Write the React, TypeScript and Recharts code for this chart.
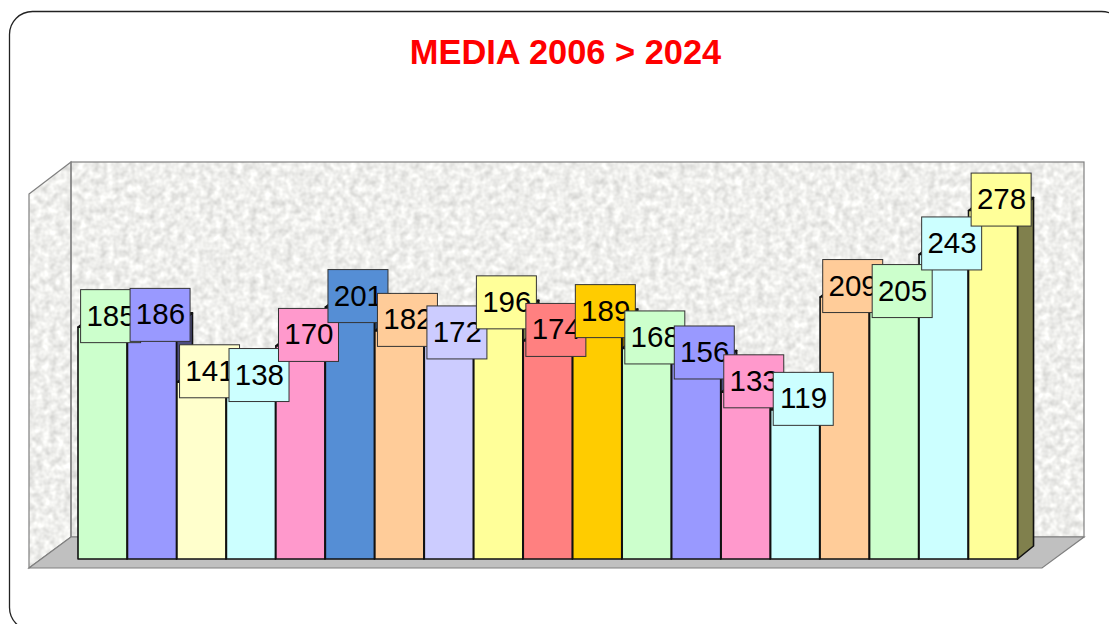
import { BarChart, Bar, XAxis, YAxis, LabelList } from 'recharts';

const years = ['2006', '2007', '2008', '2009', '2010', '2011', '2012', '2013', '2014', '2015', '2016', '2017', '2018', '2019', '2020', '2021', '2022', '2023', '2024'];
const media = [185, 186, 141, 138, 170, 201, 182, 172, 196, 174, 189, 168, 156, 133, 119, 209, 205, 243, 278];
const barColors = ['#CCFFCC', '#9999FF', '#FFFFCC', '#CCFFFF', '#FF99CC', '#558ED5', '#FFCC99', '#CCCCFF', '#FFFF99', '#FF8080', '#FFCC00', '#CCFFCC', '#9999FF', '#FF99CC', '#CCFFFF', '#FFCC99', '#CCFFCC', '#CCFFFF', '#FFFF99'];

const chartData = years.map((year, i) => ({ year, media: media[i] }));

const depthX = 16;
const depthY = 13;

// half-tone of a hex colour, for the bar's side and top faces
function shade(hex: string, k: number) {
  const n = parseInt(hex.slice(1), 16);
  const r = Math.round(((n >> 16) & 255) * k);
  const g = Math.round(((n >> 8) & 255) * k);
  const b = Math.round((n & 255) * k);
  return `rgb(${r},${g},${b})`;
}

function Bar3D(props: any) {
  const { x, y, width, height, index } = props;
  const color = barColors[index];
  const line = { stroke: '#111', strokeWidth: 1.6, strokeLinejoin: 'round' as const };
  return (
    <g>
      <polygon
        points={`${x + width},${y} ${x + width + depthX},${y - depthY} ${x + width + depthX},${y + height - depthY} ${x + width},${y + height}`}
        fill={shade(color, 0.5)}
        {...line}
      />
      <polygon
        points={`${x},${y} ${x + depthX},${y - depthY} ${x + width + depthX},${y - depthY} ${x + width},${y}`}
        fill={shade(color, 0.75)}
        {...line}
      />
      <rect x={x} y={y} width={width} height={height} fill={color} {...line} />
    </g>
  );
}

function ValueBox(props: any) {
  const { x, y, value, index } = props;
  const left = x + 2.6;
  const top = y - 37.5;
  return (
    <g>
      <rect x={left} y={top} width={60} height={53} fill={barColors[index]} stroke="#333" strokeWidth={1} />
      <text x={left + 30.4} y={top + 36} textAnchor="middle" fontFamily="Liberation Sans" fontSize={29.5} fill="#000">
        {value}
      </text>
    </g>
  );
}

function Backdrop() {
  return (
    <g>
      <defs>
        <filter id="granite" x="0" y="0" width="100%" height="100%" colorInterpolationFilters="sRGB">
          <feTurbulence type="fractalNoise" baseFrequency="0.14" numOctaves={2} seed={4} />
          <feColorMatrix type="matrix" values="0.26 0 0 0 0.805  0.26 0 0 0 0.805  0.26 0 0 0 0.795  0 0 0 0 1" />
        </filter>
        <clipPath id="leftWall">
          <polygon points="29,194 71,162 71,537 29,568" />
        </clipPath>
      </defs>
      <rect x={9.5} y={11.5} width={1115} height={619} rx={23} fill="#fff" stroke="#222" strokeWidth={1.3} />
      <text x={565.5} y={64} textAnchor="middle" fontFamily="Liberation Sans" fontWeight="bold" fontSize={34.4} fill="#FF0000">
        {'MEDIA 2006 > 2024'}
      </text>
      <rect x={71} y={162} width={1013} height={375} filter="url(#granite)" />
      <g clipPath="url(#leftWall)">
        <rect x={29} y={162} width={42} height={406} filter="url(#granite)" />
      </g>
      <rect x={71} y={162} width={1013} height={375} fill="none" stroke="#808080" strokeWidth={1.2} />
      <polygon points="29,194 71,162 71,537 29,568" fill="none" stroke="#808080" strokeWidth={1.2} />
      <polygon points="29,568 71,537 1084,537 1042,568" fill="#C0C0C0" stroke="#808080" strokeWidth={1.2} />
    </g>
  );
}

export default function App() {
  return (
    <div style={{ position: 'absolute', left: 0, top: 0, width: 1109, height: 624, overflow: 'hidden', background: '#fff' }}>
      <BarChart
        width={1109}
        height={624}
        data={chartData}
        margin={{ top: 183, right: 91, bottom: 65, left: 78 }}
        barCategoryGap={0}
      >
        <Backdrop />
        <XAxis dataKey="year" hide />
        <YAxis hide domain={[0, 300]} />
        <Bar dataKey="media" shape={<Bar3D />} isAnimationActive={false}>
          <LabelList dataKey="media" content={<ValueBox />} />
        </Bar>
      </BarChart>
    </div>
  );
}
